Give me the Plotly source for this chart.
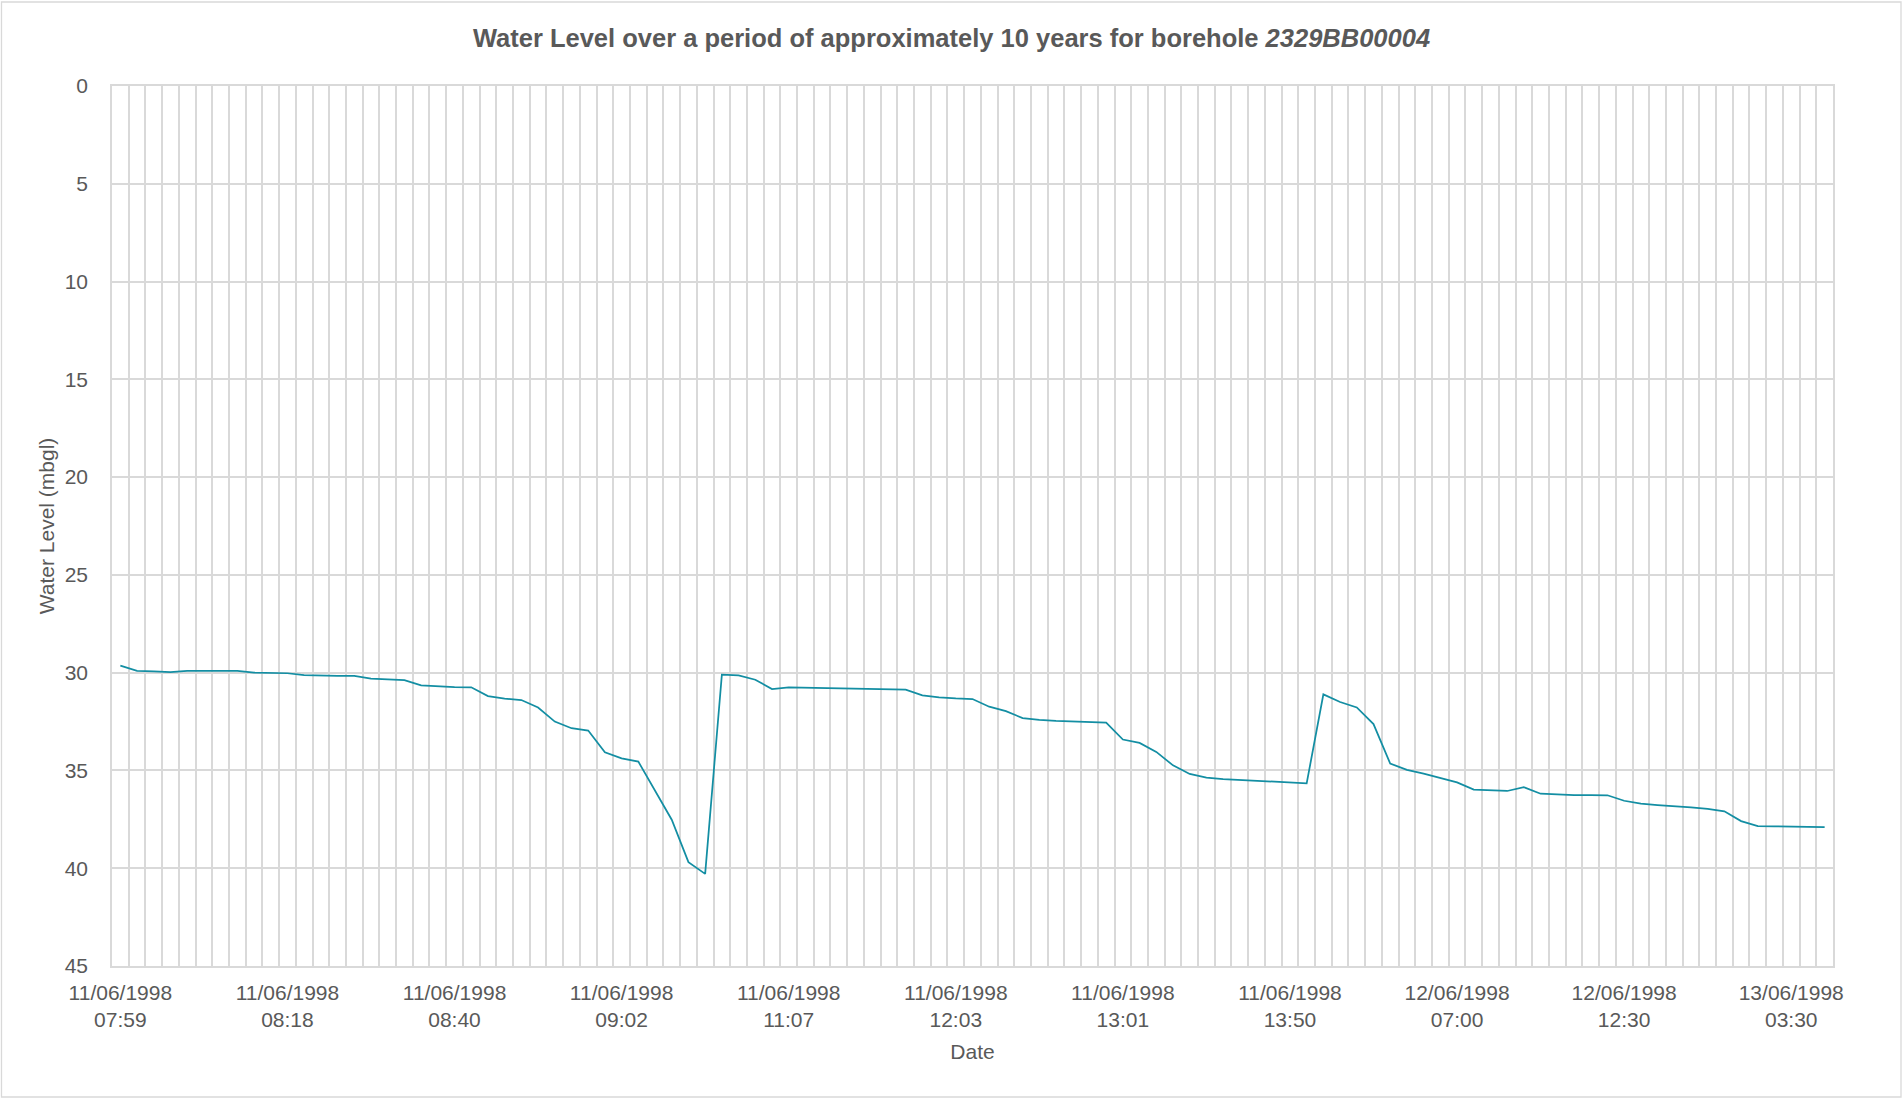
import plotly.graph_objects as go

# Water level readings (metres below ground level), one per logged reading
water_level = [
    29.64, 29.91, 29.93, 29.97, 29.91, 29.91, 29.91, 29.91, 30.00, 30.00,
    30.03, 30.12, 30.15, 30.17, 30.17, 30.31, 30.34, 30.38, 30.65, 30.70,
    30.74, 30.75, 31.20, 31.33, 31.40, 31.78, 32.50, 32.84, 32.96, 34.07,
    34.38, 34.55, 36.02, 37.52, 39.69, 40.29, 30.10, 30.14, 30.36, 30.84,
    30.75, 30.77, 30.80, 30.80, 30.82, 30.84, 30.85, 30.87, 31.16, 31.26,
    31.32, 31.35, 31.74, 31.97, 32.32, 32.41, 32.46, 32.50, 32.53, 32.55,
    33.42, 33.59, 34.05, 34.74, 35.18, 35.37, 35.44, 35.49, 35.54, 35.57,
    35.62, 35.66, 31.11, 31.50, 31.78, 32.63, 34.65, 34.97, 35.16, 35.38,
    35.61, 35.98, 36.02, 36.05, 35.86, 36.19, 36.22, 36.26, 36.26, 36.27,
    36.55, 36.70, 36.77, 36.82, 36.89, 36.96, 37.09, 37.59, 37.85, 37.86,
    37.86, 37.88, 37.90,
]

# Date/time labels shown on every tenth reading
tick_labels = [
    "11/06/1998<br>07:59", "11/06/1998<br>08:18", "11/06/1998<br>08:40",
    "11/06/1998<br>09:02", "11/06/1998<br>11:07", "11/06/1998<br>12:03",
    "11/06/1998<br>13:01", "11/06/1998<br>13:50", "12/06/1998<br>07:00",
    "12/06/1998<br>12:30", "13/06/1998<br>03:30",
]

n = len(water_level)
reading_index = list(range(n))
tick_positions = list(range(0, n, 10))[: len(tick_labels)]

TEXT = "#595959"
GRID = "#d9d9d9"
GW = 1.6
FONT = "Liberation Sans, Arial, sans-serif"

fig = go.Figure(
    go.Scatter(
        x=reading_index,
        y=water_level,
        mode="lines",
        line=dict(color="#138ea3", width=1.75),
        hoverinfo="y",
    )
)

W, H = 1903, 1099
L, R, T, B = 112, 70, 86, 133

fig.update_layout(
    width=W,
    height=H,
    margin=dict(l=L, r=R, t=T, b=B, autoexpand=False),
    paper_bgcolor="white",
    plot_bgcolor="white",
    showlegend=False,
    font=dict(family=FONT, size=21, color=TEXT),
    title=dict(
        text="Water Level over a period of approximately 10 years for borehole <i>2329BB00004</i>",
        x=0.5,
        xref="container",
        xanchor="center",
        y=1 - 38 / H,
        yref="container",
        yanchor="middle",
        font=dict(family=FONT, size=25.5, color=TEXT, weight="bold"),
    ),
    xaxis=dict(
        range=[-0.5, n - 0.5],
        tickmode="array",
        tickvals=tick_positions,
        ticktext=tick_labels,
        showgrid=False,
        zeroline=False,
        ticks="",
        ticklabelstandoff=7,
        tickfont=dict(size=21, color=TEXT),
        showline=True,
        mirror=True,
        linecolor=GRID,
        linewidth=GW,
        minor=dict(
            tickmode="array",
            tickvals=[k - 0.5 for k in range(n + 1)],
            showgrid=True,
            gridcolor=GRID,
            gridwidth=GW,
            ticks="",
        ),
        title=dict(text="Date", standoff=14.5, font=dict(size=21, color=TEXT)),
        fixedrange=True,
    ),
    yaxis=dict(
        range=[45, 0],
        tick0=0,
        dtick=5,
        showgrid=True,
        gridcolor=GRID,
        gridwidth=GW,
        zeroline=False,
        ticks="",
        showline=True,
        mirror=True,
        linecolor=GRID,
        linewidth=GW,
        ticklabelstandoff=18,
        tickfont=dict(size=21, color=TEXT),
        title=dict(text="Water Level (mbgl)", standoff=4, font=dict(size=21, color=TEXT)),
        fixedrange=True,
    ),
    shapes=[
        dict(
            type="rect",
            xref="paper",
            yref="paper",
            x0=(1.5 - L) / (W - L - R),
            x1=(W - 2 - L) / (W - L - R),
            y0=(H - B - (H - 2)) / (H - T - B),
            y1=(H - B - 2) / (H - T - B),
            line=dict(color=GRID, width=1.3),
            layer="below",
        )
    ],
)

fig.write_html("out.html", config={"displayModeBar": False})
